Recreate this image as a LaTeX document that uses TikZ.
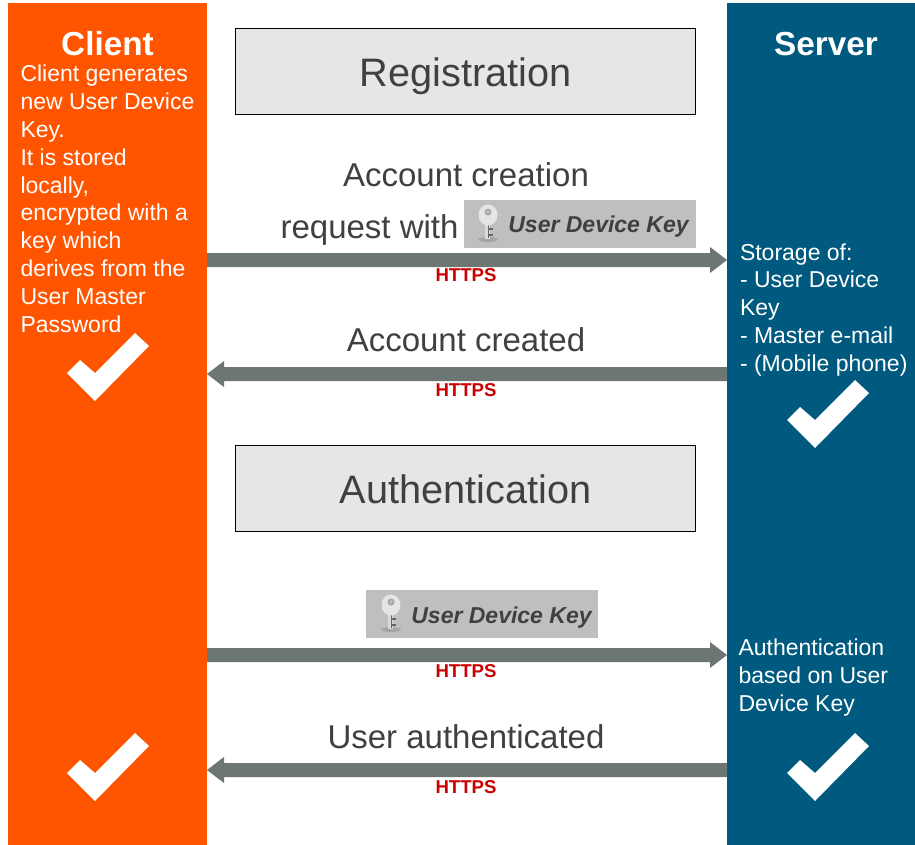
\documentclass[tikz,border=0pt]{standalone}
\usepackage{fontspec}
\setmainfont{Liberation Sans}
\definecolor{clientc}{HTML}{FF5500}
\definecolor{serverc}{HTML}{005A7F}
\definecolor{arrowc}{HTML}{6C7673}
\definecolor{titlebg}{HTML}{E6E6E6}
\definecolor{txt}{HTML}{404040}
\definecolor{keybg}{HTML}{BFBFBF}
\definecolor{httpsc}{HTML}{CC0000}
\tikzset{
  x=1pt,y=-1pt,
  every node/.style={inner sep=0pt,outer sep=0pt},
  titlebox/.style={draw=black,line width=1pt,fill=titlebg,minimum width=460pt,minimum height=86pt},
  titletext/.style={text=txt,font=\fontsize{39.7}{40}\selectfont},
  msg/.style={text=txt,font=\fontsize{33}{33}\selectfont,anchor=base},
  https/.style={text=httpsc,font=\bfseries\fontsize{18.6}{18.6}\selectfont,anchor=base},
  sidetext/.style={text=white,align=left,anchor=north west,font=\fontsize{23}{27.85}\selectfont},
  headtext/.style={text=white,font=\bfseries\fontsize{33.3}{33.3}\selectfont,anchor=base},
  keylabel/.style={fill=keybg,minimum width=232pt,minimum height=48pt},
  keytext/.style={text=txt,font=\bfseries\itshape\fontsize{23}{23}\selectfont},
  tick/.style={fill=white,draw=none}
}
\newcommand{\flowR}[1]{\fill[arrowc] (207,#1-7) -- (710,#1-7) -- (710,#1-13) -- (727,#1) -- (710,#1+13) -- (710,#1+7) -- (207,#1+7) -- cycle;}
\newcommand{\flowL}[1]{\fill[arrowc] (727,#1-7) -- (224,#1-7) -- (224,#1-13) -- (207,#1) -- (224,#1+13) -- (224,#1+7) -- (727,#1+7) -- cycle;}
\newcommand{\tickmark}[2]{\fill[tick] (#1-28,#2-28) -- (#1-15,#2-41) -- (#1,#2-28) -- (#1+40,#2-68) -- (#1+54,#2-55) -- (#1,#2) -- cycle;}
\newcommand{\keyicon}[2]{%
  \fill[black!45,opacity=.5] (#1,#2+15.5) ellipse (10 and 2.5);
  \fill[white!85!black] (#1-3.5,#2-3) rectangle (#1+2,#2+15);
  \fill[black!60] (#1+.3,#2) rectangle (#1+1.4,#2+14);
  \fill[black!60] (#1+1.4,#2+4) rectangle (#1+4.5,#2+6);
  \fill[black!60] (#1+1.4,#2+10) rectangle (#1+4.5,#2+12);
  \fill[white!90!black] (#1,#2-9) ellipse (9.5 and 10.5);
  \fill[black!35] (#1,#2-12) circle (3.5);
  \fill[white!75!black] (#1,#2-12) circle (1.8);
}
\begin{document}
\begin{tikzpicture}
\useasboundingbox (0,0) rectangle (915,845);
\fill[white] (0,0) rectangle (915,845);
\fill[clientc] (8,3) rectangle (207,845);
\fill[serverc] (727,3) rectangle (915,845);
\node[headtext] (clienttitle) at (107.5,56) {Client};
\node[headtext] (servertitle) at (826,56) {Server};
\node[sidetext] (clienttext) at (20.5,65) {Client generates\\new User Device\\Key.\\It is stored\\locally,\\encrypted with a\\key which\\derives from the\\User Master\\Password};
\node[sidetext] (servertext) at (740,243.5) {Storage of:\\- User Device\\Key\\- Master e-mail\\- (Mobile phone)};
\node[sidetext] (authtext) at (738.5,639) {Authentication\\based on User\\Device Key};
\node[titlebox] (reg) at (465.5,71.5) {};
\node[titletext,anchor=base] (regtext) at (465.5,87) {Registration};
\node[titlebox] (auth) at (465.5,488.5) {};
\node[titletext,anchor=base] (authlabel) at (465.5,503) {Authentication};
\node[msg] (m1) at (466,186) {Account creation};
\node[msg,anchor=base east] (m2) at (458.5,238) {request with};
\node[keylabel] (k1) at (580,224) {};
\node[keytext] (k1t) at (598.5,227) {User Device Key};
\keyicon{488}{224}
\flowR{260}
\node[https] (h1) at (466,281) {HTTPS};
\node[msg] (m3) at (466,351) {Account created};
\flowL{374}
\node[https] (h2) at (466,396) {HTTPS};
\node[keylabel] (k2) at (482,614) {};
\node[keytext] (k2t) at (501.5,617.5) {User Device Key};
\keyicon{391}{614}
\flowR{655}
\node[https] (h3) at (466,677) {HTTPS};
\node[msg] (m4) at (466,748) {User authenticated};
\flowL{770}
\node[https] (h4) at (466,793) {HTTPS};
\tickmark{95}{401}
\tickmark{815}{448}
\tickmark{95}{801}
\tickmark{815}{801}
\end{tikzpicture}
\end{document}
